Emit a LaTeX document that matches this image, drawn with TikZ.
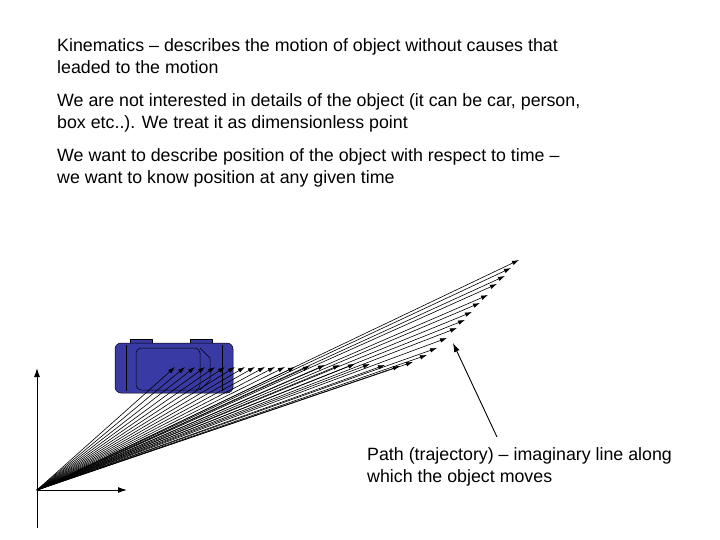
\documentclass[tikz,border=0pt]{standalone}
\usepackage{fontspec}
\setmainfont{Liberation Sans}
\usetikzlibrary{arrows.meta}
\begin{document}
\begin{tikzpicture}[x=1pt,y=-1pt,
  txt/.style={anchor=north west,inner sep=0pt,font=\fontsize{17.8}{22}\selectfont,align=left},
  vec/.style={-{Latex[length=7pt,width=4.5pt]},line width=0.6pt},
  ax/.style={-{Latex[length=9pt,width=6pt]},line width=1pt}]
\useasboundingbox (0,0) rectangle (720,540);
\node[txt] (t1) at (57,38) {Kinematics -- describes the motion of object without causes that\\leaded to the motion};
\node[txt] (t2) at (57,93) {We are not interested in details of the object (it can be car, person,\\box etc..). We treat it as dimensionless point};
\node[txt] (t3) at (57,148) {We want to describe position of the object with respect to time --\\we want to know position at any given time};
\node[txt] (t4) at (367,447) {Path (trajectory) -- imaginary line along\\which the object moves};
% car
\definecolor{carb}{RGB}{58,58,165}
\draw[fill=carb,line width=0.4pt] (130,339) rectangle (152,345) (190,339) rectangle (212,345);
\draw[fill=carb,line width=0.5pt,rounded corners=6pt] (115,343) rectangle (233,393);
\draw[line width=0.5pt] (126,345) -- (126,391);
\draw[line width=0.5pt,rounded corners=5pt] (136,348) rectangle (200,390);
\draw[line width=0.5pt] (200,348) -- (210,358) -- (210,380) -- (200,390);
\draw[line width=0.5pt] (222,345) -- (222,391);
% vectors
\coordinate (O) at (37,490);
\foreach \x in {175,185,...,295} { \draw[vec] (O) -- (\x,367); }
\foreach \p in {(310,366),(325,365),(340,365),(355,364),(370,364),(385,365),(400,366),(413,362),(427,355),(437,348),(447,338),(457,328),(465,320),(472,312),(480,303),(488,295),(497,284),(505,276),(511,268),(519,260)} { \draw[vec] (O) -- \p; }
% axes
\coordinate (yb) at (37,528); \coordinate (yt) at (37,368); \coordinate (xr) at (127,490);
\draw[ax] (yb) -- (yt);
\draw[ax] (O) -- (xr);
\coordinate (ps) at (497,437); \coordinate (pe) at (453,343);
\draw[-{Latex[length=9pt,width=6pt]},line width=0.9pt] (ps) -- (pe);
\end{tikzpicture}
\end{document}
